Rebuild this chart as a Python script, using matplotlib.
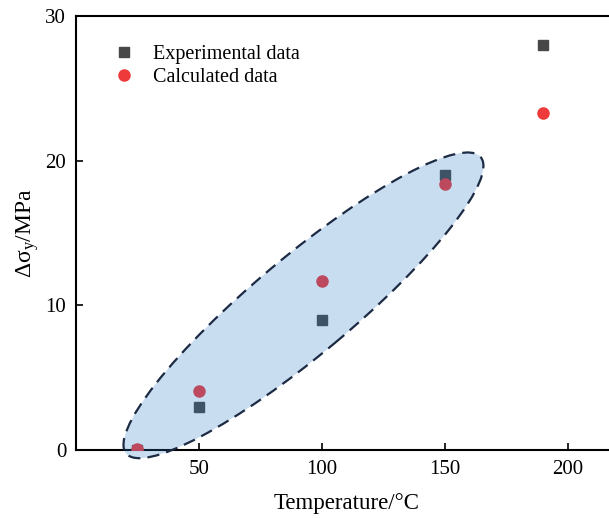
import numpy as np
import matplotlib
matplotlib.use('Agg')
import matplotlib.pyplot as plt
from matplotlib.patches import Ellipse
from matplotlib.transforms import Affine2D

plt.rcParams['font.family'] = ['Liberation Serif', 'DejaVu Serif']
plt.rcParams['mathtext.fontset'] = 'custom'
plt.rcParams['mathtext.rm'] = 'Liberation Serif'
plt.rcParams['mathtext.it'] = 'Liberation Serif'

# data
temperature = [25, 50, 100, 150, 190]
exp_data = [0.0, 3.0, 9.0, 19.0, 28.0]
calc_data = [0.1, 4.1, 11.7, 18.4, 23.3]

xticks = [50, 100, 150, 200]
yticks = [0, 10, 20, 30]

fig = plt.figure(figsize=(6.09, 5.18), dpi=100)
# axes runs past the right edge like in the original (cropped) picture
ax = fig.add_axes([76 / 609, 68 / 518, 541 / 609, 434 / 518])

ax.plot(temperature, exp_data, 's', color='#474747', markersize=7, label='Experimental data', zorder=3)
ax.plot(temperature, calc_data, 'o', color='#ee3a3a', markersize=8, label='Calculated data', zorder=3)

ax.set_xlim(0, 220)
ax.set_ylim(0, 30)
ax.set_xticks(xticks)
ax.set_yticks(yticks)

# highlighted ellipse (sizes in pixels, centre in data units)
sx = 541 / 220
sy = 434 / 30
cx, cy = 92.5, 10.0
ell_tr = Affine2D().scale(1 / sx, 1 / sy).translate(cx, cy) + ax.transData
ell = Ellipse((0, 0), 2 * 231, 2 * 49, angle=39.9, transform=ell_tr,
              facecolor='#2a78c8', alpha=0.25, edgecolor='none', zorder=4, clip_on=False)
ax.add_patch(ell)
ell_edge = Ellipse((0, 0), 2 * 231, 2 * 49, angle=39.9, transform=ell_tr,
                   facecolor='none', edgecolor='#1c2a44', linewidth=1.6,
                   linestyle=(0, (5.5, 3.2)), zorder=5, clip_on=False)
ax.add_patch(ell_edge)

ax.tick_params(direction='in', length=5, width=1.2, labelsize=15, pad=7)
for s in ax.spines.values():
    s.set_linewidth(1.5)

ax.set_xlabel('Temperature/°C', fontsize=16.5, labelpad=10)
ax.set_ylabel(r'Δσ$_\mathrm{y}$/MPa', fontsize=17, labelpad=3)

ax.legend(loc='upper left', frameon=False, fontsize=14.5, handletextpad=0.6,
          handlelength=1.6, borderaxespad=0.4, labelspacing=0.2,
          bbox_to_anchor=(0.03, 0.97))

fig.savefig('out.png', dpi=100)
